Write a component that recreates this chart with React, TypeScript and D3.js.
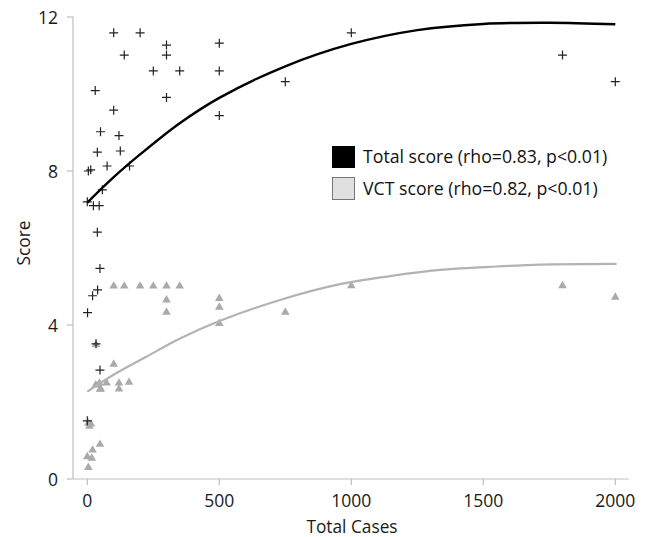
import React from "react";
import * as d3 from "d3";

// Total score observations (Total Cases, Score)
const totalX = [100, 200, 300, 300, 140, 250, 350, 500, 500, 1000, 750, 30, 300, 100, 500, 50, 120, 38, 125, 75, 160, 4, 13, 57, 0, 23, 45, 38, 1800, 2000, 48, 39, 20, 1, 33, 48, 0];
const totalY = [11.59, 11.59, 11.27, 11.01, 11.01, 10.6, 10.6, 11.32, 10.6, 11.59, 10.32, 10.09, 9.91, 9.58, 9.44, 9.02, 8.92, 8.49, 8.52, 8.13, 8.13, 8.0, 8.03, 7.51, 7.2, 7.1, 7.1, 6.41, 11.01, 10.32, 5.47, 4.91, 4.76, 4.32, 3.51, 2.83, 1.51];

// VCT score observations
const vctX = [100, 140, 200, 250, 300, 350, 1000, 1800, 300, 300, 500, 500, 500, 750, 2000, 33, 100, 32, 46, 51, 73, 48, 120, 120, 158, 4, 14, 8, 48, 20, 0, 17, 4];
const vctY = [5.01, 5.01, 5.01, 5.01, 5.01, 5.01, 5.02, 5.02, 4.65, 4.33, 4.69, 4.46, 4.04, 4.33, 4.72, 3.49, 2.98, 2.44, 2.49, 2.34, 2.49, 2.33, 2.49, 2.34, 2.51, 1.45, 1.43, 1.37, 0.9, 0.75, 0.58, 0.54, 0.3];

// Trend lines
const fitX = [0, 100, 200, 350, 500, 750, 1000, 1250, 1500, 1750, 2000];
const totalFit = [7.18, 7.84, 8.43, 9.24, 9.9, 10.72, 11.3, 11.66, 11.82, 11.85, 11.81];
const vctFitX = [0, 98, 225, 351, 503, 730, 957, 1147, 1336, 1525, 1715, 2005];
const vctFit = [2.27, 2.7, 3.18, 3.65, 4.11, 4.65, 5.06, 5.27, 5.43, 5.51, 5.57, 5.59];

const xTicks = [0, 500, 1000, 1500, 2000];
const yTicks = [0, 4, 8, 12];
const legendLabels = ["Total score (rho=0.83, p<0.01)", "VCT score (rho=0.82, p<0.01)"];

const FONT = "'Open Sans', sans-serif";

export default function App() {
  const x = d3.scaleLinear().domain([0, 2000]).range([87.3, 615.3]);
  const y = d3.scaleLinear().domain([0, 12]).range([479, 17]);
  const axisColor = "#bfbfbf";

  const line = d3
    .line<[number, number]>()
    .x((d) => x(d[0]))
    .y((d) => y(d[1]))
    .curve(d3.curveCatmullRom.alpha(0.5));

  const totalPath = line(fitX.map((v, i) => [v, totalFit[i]] as [number, number])) || "";
  const vctPath = line(vctFitX.map((v, i) => [v, vctFit[i]] as [number, number])) || "";
  const tri = d3.symbol().type(d3.symbolTriangle).size(32)() || "";

  return (
    <svg
      width={646}
      height={537}
      style={{ position: "absolute", left: 0, top: 0, background: "#fff" }}
      fontFamily={FONT}
    >
      <rect width={646} height={537} fill="#fff" />
      {/* axes */}
      <line x1={73} x2={73} y1={y(12)} y2={y(0)} stroke={axisColor} strokeWidth={1.2} />
      <line x1={x(-54)} x2={x(2052)} y1={y(0)} y2={y(0)} stroke={axisColor} strokeWidth={1.2} />
      {yTicks.map((t) => (
        <g key={"y" + t}>
          <line x1={67} x2={73} y1={y(t)} y2={y(t)} stroke={axisColor} strokeWidth={1.2} />
          <text x={58} y={y(t)} dy="0.42em" textAnchor="end" fontSize={17.5} fill="#1a1a1a">
            {t}
          </text>
        </g>
      ))}
      {xTicks.map((t) => (
        <g key={"x" + t}>
          <line x1={x(t)} x2={x(t)} y1={y(0)} y2={y(0) + 6} stroke={axisColor} strokeWidth={1.2} />
          <text x={x(t)} y={507} textAnchor="middle" fontSize={17.5} fill="#1a1a1a">
            {t}
          </text>
        </g>
      ))}
      <text x={352} y={533} textAnchor="middle" fontSize={17.3} fill="#1a1a1a">
        Total Cases
      </text>
      <text
        transform="translate(30,243) rotate(-90)"
        textAnchor="middle"
        fontSize={17.3}
        fill="#1a1a1a"
      >
        Score
      </text>

      {/* VCT points */}
      {vctX.map((v, i) => (
        <path key={"v" + i} d={tri} transform={`translate(${x(v)},${y(vctY[i])})`} fill="#aaaaaa" />
      ))}
      {/* Total points */}
      {totalX.map((v, i) => (
        <path
          key={"t" + i}
          d="M-4.5,0H4.5M0,-4.5V4.5"
          transform={`translate(${x(v)},${y(totalY[i])})`}
          stroke="#222"
          strokeWidth={1.2}
          fill="none"
        />
      ))}

      {/* trend lines */}
      <path d={vctPath} fill="none" stroke="#b3b3b3" strokeWidth={2.2} />
      <path d={totalPath} fill="none" stroke="#000" strokeWidth={2.4} />

      {/* legend */}
      <rect x={332} y={146} width={23} height={22} fill="#000" />
      <rect x={332.5} y={177.5} width={22} height={22} fill="#e0e0e0" stroke="#777" strokeWidth={1} />
      <text x={363} y={163} fontSize={17.7} fill="#111">
        {legendLabels[0]}
      </text>
      <text x={363} y={195} fontSize={17.7} fill="#111">
        {legendLabels[1]}
      </text>
    </svg>
  );
}
